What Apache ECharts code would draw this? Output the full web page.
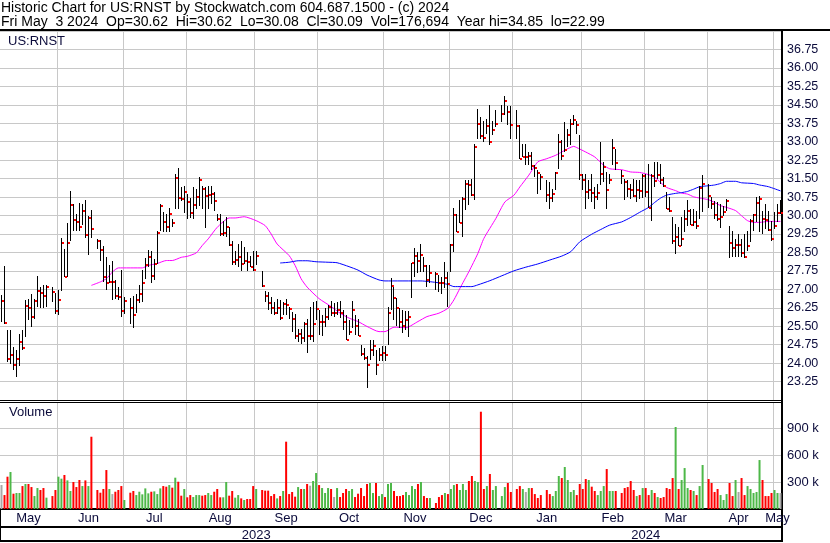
<!DOCTYPE html>
<html><head><meta charset="utf-8">
<script src="https://cdn.jsdelivr.net/npm/echarts@6/dist/echarts.min.js"></script>
<style>html,body{margin:0;padding:0;background:#fff}#c{width:830px;height:543px}</style>
</head><body><div id="c"></div>
<script>
// ---- data ----
const startDate = '2023-05-05', endDate = '2024-05-03';   // every weekday is a slot; holidays are null
const lows = [
25.67,25.6,24.05,23.98,23.71,23.44,23.88,24.52,25.06,25.74,
25.47,25.8,26.28,26.25,26.25,26.3,null,26.48,26.0,25.96,
26.93,27.49,27.49,28.95,29.39,29.39,29.35,29.63,29.09,28.38,
29.09,null,28.65,28.16,27.28,26.97,27.25,26.55,26.61,26.57,
25.87,26.0,null,25.6,25.43,26.05,26.43,26.48,27.43,27.9,
27.26,27.39,28.03,29.39,29.32,29.34,29.32,29.52,30.26,30.26,
30.6,30.1,29.86,29.89,29.86,30.26,30.4,30.26,29.48,30.26,
30.47,30.2,29.79,29.18,29.18,29.11,28.78,27.97,27.97,27.9,
27.76,28.03,27.76,27.9,27.75,27.97,null,27.09,26.48,26.14,
26.01,25.94,26.01,25.74,25.94,25.94,25.8,25.26,24.99,24.86,
24.79,24.86,24.43,24.93,24.86,25.74,25.15,25.11,25.46,25.76,
25.92,25.89,25.96,25.85,25.35,24.92,25.15,25.42,25.15,25.11,
24.27,24.14,22.99,24.14,24.27,23.53,24.07,24.07,24.07,24.74,
26.16,25.76,25.49,25.42,25.22,25.35,25.08,26.64,27.51,27.65,
27.72,27.72,27.11,27.24,null,26.97,26.91,26.81,27.04,26.3,
27.72,28.53,29.34,29.7,29.14,30.22,30.42,30.8,30.65,33.12,
33.12,32.99,33.32,32.85,33.26,33.59,null,33.8,34.07,33.66,
33.12,null,33.12,32.31,32.38,32.04,32.04,31.84,31.57,30.89,
31.03,null,30.55,30.28,30.55,31.03,31.9,32.24,32.58,32.78,
32.85,33.66,33.3,31.43,31.03,30.28,30.69,30.55,30.28,30.62,
31.23,31.36,30.28,31.3,32.04,31.84,null,31.3,30.62,30.76,
30.69,30.76,30.55,30.69,30.7,30.74,30.29,29.79,31.14,31.48,
31.28,31.14,30.25,30.13,28.84,28.44,28.78,28.78,29.32,29.59,
29.6,29.59,29.45,29.86,30.13,null,30.3,30.26,29.86,29.79,
29.49,29.99,30.2,28.28,28.32,28.32,28.32,28.32,28.28,28.57,
28.91,29.39,29.72,29.32,29.25,29.45,29.38,28.98,29.45,29.72,
30.08];
const highs = [
26.75,27.93,25.33,25.33,24.65,24.52,25.17,25.33,26.55,26.59,
26.79,26.62,27.56,27.09,27.16,27.16,null,27.09,26.84,26.98,
29.09,28.62,29.68,30.98,30.47,30.06,30.5,30.47,30.64,30.0,
30.23,null,29.05,29.0,28.77,28.3,28.0,28.14,27.36,27.09,
27.77,26.68,null,26.64,26.74,26.79,27.16,27.77,28.28,28.6,
28.55,28.24,29.39,30.47,30.13,30.06,30.29,29.86,31.68,31.93,
31.14,31.21,30.87,30.7,31.14,31.07,31.57,31.21,31.14,31.18,
31.21,30.94,30.06,30.06,29.79,29.93,29.52,28.98,28.57,28.84,
28.98,28.71,28.51,28.37,28.57,28.57,null,27.76,26.95,26.89,
26.68,26.48,26.61,26.55,26.48,26.61,26.28,26.07,26.01,25.4,
25.4,25.67,25.8,26.28,26.48,26.54,26.16,25.96,26.23,26.36,
26.54,26.43,26.5,26.54,26.16,25.96,25.76,26.54,25.96,25.78,
24.74,24.61,24.27,24.95,24.95,24.54,24.61,24.68,24.68,26.3,
27.45,27.11,26.64,26.23,26.16,26.1,26.1,28.08,28.66,28.53,
28.86,28.32,27.99,27.99,null,27.72,27.58,27.51,28.09,27.72,
28.86,30.32,30.08,30.62,30.76,31.46,31.46,31.5,32.92,34.34,
34.0,33.86,33.93,34.51,33.86,34.27,null,34.5,34.85,34.47,
34.47,null,34.3,33.66,32.92,32.92,32.58,32.58,32.04,31.84,
31.7,null,31.43,31.36,31.09,31.77,33.32,33.05,33.8,33.53,
33.93,34.07,33.86,33.26,31.7,31.7,31.43,31.7,31.16,31.3,
32.99,32.18,31.77,31.7,33.12,32.72,null,31.84,31.5,31.43,
31.3,31.5,31.43,31.43,31.7,31.68,32.09,31.68,32.16,32.18,
32.11,31.55,30.94,30.74,29.93,29.66,29.52,29.93,30.22,30.63,
30.26,30.26,30.2,31.21,31.66,null,31.27,30.74,30.6,30.53,
30.47,30.4,30.67,29.59,29.39,29.05,29.25,29.05,29.25,29.39,
29.86,30.06,30.74,30.8,30.2,30.47,30.2,29.79,30.13,30.47,
30.62];
const closes = [
26.52,25.63,24.16,24.33,23.91,24.16,24.84,24.61,26.32,26.24,
25.87,26.52,26.95,26.84,26.71,27.09,null,26.88,26.1,26.56,
28.87,27.52,28.87,30.44,29.83,29.72,29.55,30.2,29.22,29.89,
29.45,null,28.98,28.6,27.52,27.25,27.29,27.29,26.72,26.68,
26.1,26.52,null,26.24,25.95,26.55,26.79,27.25,28.0,28.33,
27.56,28.03,29.3,30.4,29.72,29.52,30.05,29.68,31.53,30.7,
30.66,30.94,30.53,30.09,30.44,30.76,31.45,31.06,30.8,30.84,
30.89,30.57,29.84,29.24,29.3,29.52,28.79,28.1,28.2,28.3,
28.02,28.17,28.13,27.9,27.8,28.37,null,27.13,26.72,26.44,
26.26,26.02,26.24,25.84,26.4,26.38,26.18,25.8,25.1,25.17,
25.02,25.57,25.1,25.1,25.6,26.2,25.66,25.69,25.89,26.3,
26.03,26.03,26.16,26.05,25.69,24.92,25.28,26.16,25.51,25.11,
24.38,24.2,23.91,24.55,24.68,23.91,24.31,24.41,24.34,26.05,
27.15,26.66,26.26,25.69,25.49,25.76,25.89,28.05,28.36,28.16,
28.41,27.96,27.38,27.65,null,27.61,27.27,27.24,27.47,27.22,
28.82,30.01,29.34,29.7,30.66,31.27,31.23,30.82,32.78,33.7,
33.23,33.15,33.64,32.99,33.46,33.72,null,34.11,34.65,34.19,
33.68,null,33.64,32.31,32.38,32.38,32.42,32.0,31.93,31.74,
31.57,null,30.82,30.73,30.88,31.73,32.99,32.42,32.65,33.26,
33.73,33.89,33.68,31.64,31.46,30.95,31.03,30.92,30.76,30.93,
31.69,31.97,31.03,31.46,32.76,32.14,null,31.59,31.35,31.09,
31.03,30.78,31.05,30.98,31.6,30.94,30.29,31.59,31.41,31.64,
31.45,31.2,30.25,30.17,28.95,29.14,28.78,29.03,29.84,30.17,
29.6,29.72,29.56,31.1,31.3,null,30.78,30.47,30.01,29.86,
29.93,30.16,30.57,28.87,28.68,28.79,28.79,28.47,28.3,28.74,
29.79,30.01,30.5,30.67,29.87,29.83,29.43,29.03,29.56,30.09,
30.09];
const volumesK = [
267,155,359,411,170,178,178,255,278,278,
244,144,233,211,233,126,null,144,211,359,
337,378,318,200,300,244,322,255,318,255,
803,null,211,181,222,433,222,166,192,211,
255,100,null,181,200,155,192,163,229,174,
192,196,166,229,255,248,266,237,348,303,
148,222,130,155,133,155,155,148,155,178,
155,192,222,130,130,300,148,200,126,155,
118,100,111,111,255,222,null,211,204,204,
144,166,118,144,200,748,166,189,137,244,
222,222,278,259,311,400,266,233,178,233,
222,133,233,133,178,222,200,222,133,170,
233,144,278,289,178,289,144,166,133,278,
289,200,144,144,155,189,155,255,222,278,
300,144,122,122,null,67,133,155,178,166,
222,266,278,211,278,211,311,367,311,300,
1081,222,255,389,211,255,null,144,244,289,
189,null,222,255,222,189,233,233,166,122,
155,null,211,166,144,200,367,344,467,322,
189,211,155,278,222,333,322,248,200,155,
200,255,444,200,200,200,null,178,233,244,
311,211,144,155,233,233,155,211,178,133,
122,133,233,222,344,911,222,322,455,233,
211,200,155,255,489,null,333,289,189,222,
155,100,166,289,144,322,189,344,155,255,
222,178,189,544,322,144,144,178,211,178,
177];
// moving averages: [weekday slot, price]
const maShort = [[30,27.16],[33,27.3],[35,27.43],[37,27.7],[39,27.87],[47,27.87],[49,27.97],[52,28.05],[55,28.17],[57,28.17],[60,28.3],[62,28.34],[65,28.48],[67,28.78],[69,29.05],[72,29.52],[76,29.9],[78,29.9],[81,29.95],[85,29.79],[88,29.59],[90,29.25],[92,28.84],[96,28.37],[98,27.97],[100,27.43],[102,27.09],[106,26.62],[110,26.3],[113,26.03],[116,25.83],[119,25.69],[122,25.49],[126,25.28],[128,25.28],[131,25.46],[135,25.44],[139,25.69],[142,25.89],[146,26.03],[149,26.23],[151,26.57],[153,27.04],[156,27.72],[159,28.46],[161,29.07],[165,29.88],[168,30.55],[171,30.82],[173,31.16],[176,31.64],[179,32.18],[182,32.31],[185,32.45],[188,32.65],[191,32.81],[192,32.76],[195,32.58],[198,32.38],[201,32.04],[203,31.9],[207,31.86],[210,31.77],[213,31.75],[216,31.66],[218,31.55],[220,31.34],[222,31.14],[225,31.01],[227,30.91],[229,30.87],[231,30.76],[233,30.71],[236,30.64],[238,30.53],[240,30.4],[242,30.33],[245,30.2],[247,29.99],[249,29.79],[251,29.72],[253,29.72],[256,29.76],[260,29.76]];
const maLong = [[93,28.07],[96,28.1],[99,28.16],[102,28.16],[105,28.12],[109,28.1],[112,28.08],[116,27.92],[119,27.78],[122,27.58],[126,27.38],[128,27.34],[140,27.34],[145,27.28],[149,27.2],[151,27.11],[157,27.11],[159,27.18],[163,27.35],[167,27.55],[171,27.75],[175,27.9],[179,28.03],[183,28.19],[187,28.35],[190,28.53],[193,28.93],[197,29.24],[200,29.43],[203,29.61],[207,29.74],[210,29.92],[213,30.13],[216,30.33],[218,30.53],[220,30.71],[222,30.83],[225,30.9],[227,30.93],[229,30.98],[231,31.07],[233,31.17],[236,31.21],[238,31.24],[240,31.3],[242,31.39],[245,31.39],[247,31.33],[251,31.3],[253,31.24],[256,31.17],[260,31.0]];
const priceAxis = {min: 22.5, max: 37.5, step: 0.75};
const volAxis = {min: 0, max: 1189, step: 300};
const monthNames = ['Jan','Feb','Mar','Apr','May','Jun','Jul','Aug','Sep','Oct','Nov','Dec'];
const header1 = 'Historic Chart for US:RNST by Stockwatch.com 604.687.1500 - (c) 2024';
const header2 = 'Fri May  3 2024  Op=30.62  Hi=30.62  Lo=30.08  Cl=30.09  Vol=176,694  Year hi=34.85  lo=22.99';

// ---- build ----
function buildDates(s, e) {
  const out = []; let t = Date.parse(s + 'T00:00:00Z'); const end = Date.parse(e + 'T00:00:00Z');
  while (t <= end) { const d = new Date(t); const w = d.getUTCDay(); if (w !== 0 && w !== 6) out.push(d.toISOString().slice(0, 10)); t += 86400000; }
  return out;
}
const dates = buildDates(startDate, endDate);
const monthStart = new Set(), monthLabel = new Set(), yearLabel = new Set(), yearStart = new Set();
(function () {
  let runStart = 0;
  for (let i = 1; i <= dates.length; i++) {
    if (i === dates.length || dates[i].slice(0, 7) !== dates[i - 1].slice(0, 7)) {
      monthLabel.add(Math.floor((runStart + i - 1) / 2));
      if (i < dates.length) monthStart.add(i);
      runStart = i;
    }
  }
  let ys = 0;
  for (let i = 1; i <= dates.length; i++) {
    if (i === dates.length || dates[i].slice(0, 4) !== dates[i - 1].slice(0, 4)) {
      yearLabel.add(Math.floor((ys + i - 1) / 2));
      if (i < dates.length) yearStart.add(i);
      ys = i;
    }
  }
})();

const hlc = [];
for (let i = 0; i < dates.length; i++) if (closes[i] != null) hlc.push([i, lows[i], highs[i], closes[i]]);

const UP = '#4db848', DOWN = '#ff0000', FLAT = '#a8a8a8';
const volData = [];
let prev = null;
for (let i = 0; i < dates.length; i++) {
  if (volumesK[i] == null) { volData.push(null); continue; }
  let col = FLAT;
  if (prev != null) col = closes[i] > prev ? UP : (closes[i] < prev ? DOWN : FLAT);
  prev = closes[i];
  volData.push({value: volumesK[i], itemStyle: {color: col}});
}

const FONT = "'Liberation Sans', Arial, sans-serif";
const LBL = '#0b0b3b';
const GRID = '#c8c8c8';
const black = w => ({show: true, lineStyle: {color: '#000', width: w}});

function renderHLC(params, api) {
  const i = api.value(0);
  const top = api.coord([i, api.value(2)]);
  const bot = api.coord([i, api.value(1)]);
  const c = api.coord([i, api.value(3)]);
  const x = Math.floor(top[0]) + 0.5;
  return {type: 'group', children: [
    {type: 'line', shape: {x1: x, y1: Math.round(top[1]), x2: x, y2: Math.round(bot[1])}, style: {stroke: '#000', lineWidth: 1}},
    {type: 'rect', shape: {x: x + 0.5, y: Math.round(c[1]) - 1, width: 2, height: 2}, style: {fill: '#ff0000'}}
  ]};
}

const titleStyle = {fontSize: 13, fontWeight: 'normal', fontFamily: FONT, color: '#000'};
const headStyle = Object.assign({}, titleStyle, {fontSize: 14});
const chart = echarts.init(document.getElementById('c'), null, {renderer: 'canvas'});
chart.setOption({
  animation: false,
  backgroundColor: '#fff',
  title: [
    {text: header1, left: 1, top: 1, padding: 0, textStyle: headStyle},
    {text: header2, left: 1, top: 15, padding: 0, textStyle: headStyle},
    {text: 'US:RNST', left: 8, top: 35, padding: 0, textStyle: Object.assign({}, titleStyle, {color: LBL})},
    {text: 'Volume', left: 9, top: 406, padding: 0, textStyle: Object.assign({}, titleStyle, {color: LBL})}
  ],
  grid: [
    {left: 0, top: 31, width: 782, height: 369},
    {left: 0, top: 402, width: 782, height: 107}
  ],
  xAxis: [
    {type: 'category', gridIndex: 0, data: dates, boundaryGap: true, axisLine: black(1), axisTick: {show: false}, axisLabel: {show: false},
     splitLine: {show: true, interval: i => monthStart.has(i), lineStyle: {color: GRID, width: 1}}},
    {type: 'category', gridIndex: 1, data: dates, boundaryGap: true, axisLine: black(2),
     axisTick: {show: true, interval: i => yearStart.has(i), length: 18, lineStyle: {color: '#000', width: 2}},
     axisLabel: {show: true, interval: i => monthLabel.has(i), formatter: v => monthNames[+v.slice(5, 7) - 1], margin: 3, fontSize: 13, fontFamily: FONT, color: LBL},
     splitLine: {show: true, interval: i => monthStart.has(i), lineStyle: {color: GRID, width: 1}}},
    {type: 'category', gridIndex: 1, data: dates, boundaryGap: true, position: 'bottom', offset: 18, axisLine: black(2),
     axisTick: {show: true, interval: i => yearStart.has(i), length: 14, lineStyle: {color: '#000', width: 2}},
     axisLabel: {show: true, interval: i => yearLabel.has(i), formatter: v => v.slice(0, 4), margin: 2, fontSize: 13, fontFamily: FONT, color: LBL},
     splitLine: {show: false}},
    {type: 'category', gridIndex: 1, data: dates, position: 'bottom', offset: 32, axisLine: black(2), axisTick: {show: false}, axisLabel: {show: false}, splitLine: {show: false}},
    {type: 'category', gridIndex: 1, data: dates, position: 'top', axisLine: black(1), axisTick: {show: false}, axisLabel: {show: false}, splitLine: {show: false}}
  ],
  yAxis: [
    {type: 'value', gridIndex: 0, position: 'right', min: priceAxis.min, max: priceAxis.max, interval: priceAxis.step,
     axisLine: black(2), axisTick: {show: false},
     axisLabel: {showMinLabel: false, showMaxLabel: false, formatter: v => v.toFixed(2), margin: 5, fontSize: 12.5, fontFamily: FONT, color: LBL},
     splitLine: {show: true, lineStyle: {color: GRID, width: 1}}},
    {type: 'value', gridIndex: 1, position: 'right', min: volAxis.min, max: volAxis.max, interval: volAxis.step,
     axisLine: black(2), axisTick: {show: false},
     axisLabel: {showMinLabel: false, showMaxLabel: false, formatter: v => v + ' k', margin: 5, fontSize: 13, fontFamily: FONT, color: LBL},
     splitLine: {show: true, lineStyle: {color: GRID, width: 1}}}
  ],
  series: [
    {type: 'line', name: 'MA short', xAxisIndex: 0, yAxisIndex: 0, data: maShort.map(p => [dates[p[0]], p[1]]), showSymbol: false, smooth: 0.2,
     lineStyle: {color: '#ff00ff', width: 1}, z: 3},
    {type: 'line', name: 'MA long', xAxisIndex: 0, yAxisIndex: 0, data: maLong.map(p => [dates[p[0]], p[1]]), showSymbol: false, smooth: 0.2,
     lineStyle: {color: '#0000ff', width: 1}, z: 3},
    {type: 'custom', name: 'HLC', xAxisIndex: 0, yAxisIndex: 0, data: hlc, encode: {x: 0, y: [1, 2, 3]}, renderItem: renderHLC, z: 4},
    {type: 'bar', name: 'Volume', xAxisIndex: 1, yAxisIndex: 1, data: volData, barWidth: 2, barGap: '0%'}
  ],
  graphic: [
    {type: 'line', shape: {x1: 0, y1: 30, x2: 830, y2: 30}, style: {stroke: '#000', lineWidth: 2}, silent: true},
    {type: 'line', shape: {x1: 782, y1: 399, x2: 782, y2: 542}, style: {stroke: '#000', lineWidth: 2}, silent: true}
  ]
});
</script></body></html>
